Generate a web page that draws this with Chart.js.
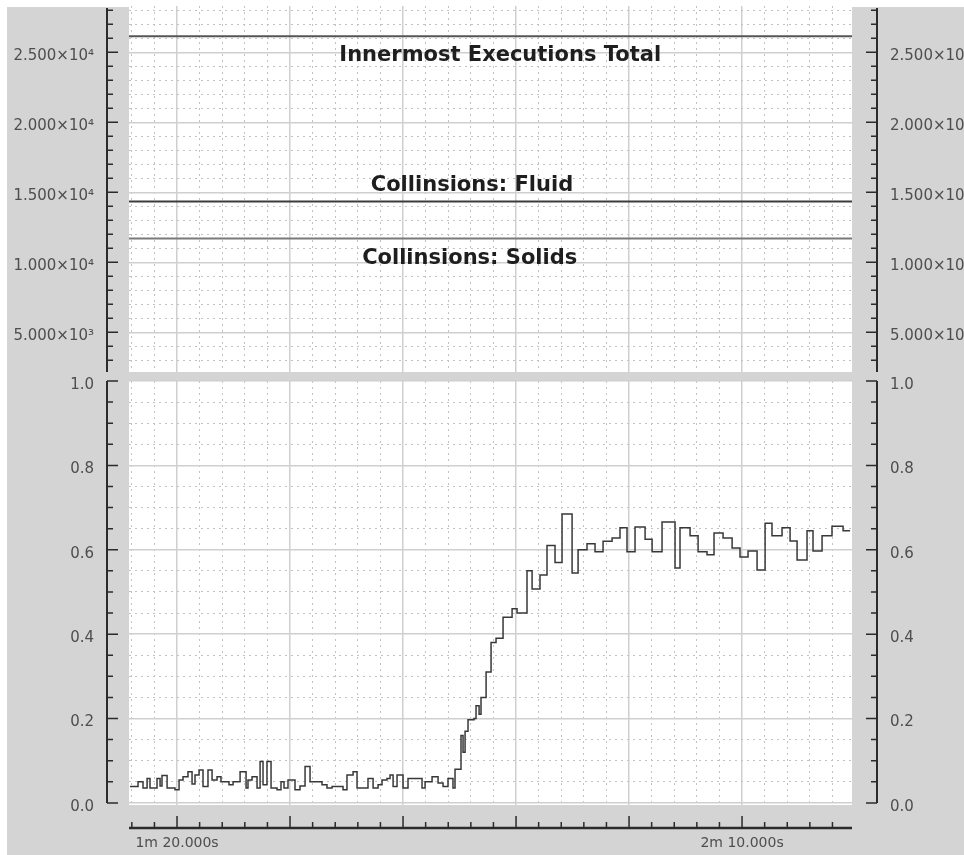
<!DOCTYPE html>
<html>
<head>
<meta charset="utf-8">
<title>Innermost executions / collisions</title>
<script src="https://cdn.jsdelivr.net/npm/chart.js@4.4.1/dist/chart.umd.min.js"></script>
<style>
  html, body { margin: 0; padding: 0; background: #fff; }
  #frame { position: absolute; left: 7px; top: 7px; width: 957px; height: 848px; background: #d4d4d4; }
  .wrap { position: absolute; left: 0; width: 964px; }
  #topWrap { top: 0; height: 377px; }
  #bottomWrap { top: 377px; height: 478px; }
</style>
</head>
<body>
<div id="frame"></div>
<div class="wrap" id="topWrap"><canvas id="countChart"></canvas></div>
<div class="wrap" id="bottomWrap"><canvas id="ratioChart"></canvas></div>
<script>
// shared time axis (seconds)
const timeRange = [75.75, 139.73];
const timeMajorTicks = [80, 90, 100, 110, 120, 130];
const timeLabelTicks = [80, 130];
const timeLabels = ['1m 20.000s', '2m 10.000s'];

// upper panel: counts
const countRange = [2164, 28307];
const countTicks = [5000, 10000, 15000, 20000, 25000];
const countTickLabels = ['5.000×10³', '1.000×10⁴', '1.500×10⁴', '2.000×10⁴', '2.500×10⁴'];
const countSeries = ['Innermost Executions Total', 'Collinsions: Fluid', 'Collinsions: Solids'];
const countValues = [26150, 14350, 11700];

// lower panel: ratio
const ratioRange = [-0.005, 1.0];
const ratioTicks = [0, 0.2, 0.4, 0.6, 0.8, 1.0];
const ratioTickLabels = ['0.0', '0.2', '0.4', '0.6', '0.8', '1.0'];
const ratioTimes = [
  75.84, 76.55, 76.99, 77.35, 77.61, 78.23, 78.50, 78.67, 79.12, 79.82,
  80.18, 80.53, 80.97, 81.33, 81.59, 81.95, 82.30, 82.74, 83.10, 83.54,
  83.89, 84.60, 84.96, 85.58, 86.11, 86.28, 86.64, 87.08, 87.35, 87.61,
  87.96, 88.32, 88.85, 89.20, 89.47, 89.82, 90.44, 90.88, 91.33, 91.77,
  92.83, 93.27, 93.72, 94.69, 95.04, 95.58, 95.93, 96.90, 97.35, 97.79,
  98.14, 98.58, 98.85, 99.12, 99.47, 100.00, 100.44, 101.68, 101.95, 102.57,
  103.10, 103.54, 103.98, 104.42, 104.60, 105.13, 105.31, 105.49, 105.75, 106.28,
  106.46, 106.73, 106.90, 107.35, 107.79, 108.23, 108.85, 109.65, 110.09, 110.97,
  111.42, 112.12, 112.74, 113.45, 114.07, 114.96, 115.49, 116.28, 116.99, 117.70,
  118.50, 119.20, 119.82, 120.53, 121.42, 122.04, 122.92, 124.07, 124.51, 125.40,
  126.11, 126.90, 127.52, 128.32, 129.12, 129.82, 130.53, 131.33, 132.04, 132.65,
  133.54, 134.25, 134.87, 135.75, 136.28, 137.08, 137.96, 138.94, 139.56
];
const ratioValues = [
  0.039, 0.050, 0.035, 0.058, 0.035, 0.058, 0.040, 0.065, 0.035, 0.031,
  0.054, 0.062, 0.074, 0.045, 0.066, 0.078, 0.039, 0.078, 0.054, 0.062,
  0.050, 0.043, 0.050, 0.074, 0.035, 0.054, 0.062, 0.035, 0.098, 0.043,
  0.098, 0.035, 0.031, 0.050, 0.035, 0.054, 0.031, 0.040, 0.086, 0.050,
  0.043, 0.035, 0.039, 0.031, 0.066, 0.074, 0.035, 0.058, 0.035, 0.043,
  0.054, 0.058, 0.066, 0.039, 0.066, 0.035, 0.058, 0.035, 0.050, 0.062,
  0.047, 0.039, 0.058, 0.035, 0.080, 0.160, 0.120, 0.170, 0.197, 0.200,
  0.230, 0.210, 0.250, 0.310, 0.380, 0.390, 0.440, 0.460, 0.450, 0.550,
  0.507, 0.540, 0.610, 0.570, 0.685, 0.545, 0.600, 0.614, 0.595, 0.620,
  0.628, 0.652, 0.595, 0.654, 0.625, 0.595, 0.666, 0.557, 0.652, 0.633,
  0.595, 0.588, 0.640, 0.628, 0.604, 0.583, 0.597, 0.552, 0.663, 0.633,
  0.652, 0.621, 0.576, 0.645, 0.597, 0.633, 0.656, 0.645, 0.645
];

// where the series names sit: time position and offset from their line
const countNamePlacement = [
  { t: 108.6, dy: 19 },
  { t: 106.1, dy: -16 },
  { t: 105.9, dy: 20 }
];
const countLineColors = ['#555', '#3c3c3c', '#7a7a7a'];

Chart.defaults.font.family = '"DejaVu Sans", sans-serif';
Chart.defaults.font.size = 15;
Chart.defaults.color = '#4e4e4e';

function steps(from, to, step) {
  const out = [];
  for (let v = from; v <= to + step / 1000; v += step) out.push(Math.round(v * 1000) / 1000);
  return out;
}
function setTicks(values) {
  return function (s) { s.ticks = values.map(v => ({ value: v })); };
}
function fixedSize(size) {
  return function (s) {
    if (s.isHorizontal()) s.height = size; else s.width = size;
    s.paddingTop = s.paddingBottom = s.paddingLeft = s.paddingRight = 0;
  };
}
function isIn(list, v) {
  return list.some(m => Math.abs(m - v) < 1e-6);
}

const MINOR_GRID = '#c2c2c2';
const MAJOR_GRID = '#cfcfcf';

// time scales: dotted every 2 s, solid every 10 s
function timeScales(labelled, height) {
  const minor = steps(76, 138, 2);
  return {
    x: {
      type: 'linear', position: 'bottom', min: timeRange[0], max: timeRange[1],
      afterBuildTicks: setTicks(minor),
      grid: { color: c => isIn(timeMajorTicks, c.tick.value) ? 'transparent' : MINOR_GRID, lineWidth: 1, drawTicks: false },
      border: { display: false, dash: [2, 4] },
      ticks: { display: false },
      afterFit: fixedSize(0)
    },
    xMajor: {
      type: 'linear', position: 'bottom', min: timeRange[0], max: timeRange[1],
      afterBuildTicks: setTicks(timeMajorTicks),
      grid: { color: MAJOR_GRID, lineWidth: 1.5, drawTicks: false },
      border: { display: false },
      ticks: {
        display: labelled, autoSkip: false, maxRotation: 0, padding: 30,
        font: { size: 14 },
        callback: v => {
          const i = timeLabelTicks.indexOf(v);
          return i >= 0 ? timeLabels[i] : '';
        }
      },
      afterFit: fixedSize(height)
    }
  };
}

function valueScales(range, major, labels, minor) {
  const label = v => {
    const i = major.findIndex(m => Math.abs(m - v) < 1e-9);
    return i >= 0 ? labels[i] : '';
  };
  return {
    y: {
      type: 'linear', position: 'left', min: range[0], max: range[1],
      afterBuildTicks: setTicks(major),
      grid: { color: MAJOR_GRID, lineWidth: 1.5, drawTicks: false },
      border: { display: false },
      ticks: { padding: 35, labelOffset: 4, callback: label },
      afterFit: fixedSize(129)
    },
    yMinor: {
      type: 'linear', position: 'left', min: range[0], max: range[1],
      afterBuildTicks: setTicks(minor),
      grid: { color: c => isIn(major, c.tick.value) ? 'transparent' : MINOR_GRID, lineWidth: 1, drawTicks: false },
      border: { display: false, dash: [2, 4] },
      ticks: { display: false },
      afterFit: fixedSize(0)
    },
    yRight: {
      type: 'linear', position: 'right', min: range[0], max: range[1],
      afterBuildTicks: setTicks(major),
      grid: { drawOnChartArea: false, drawTicks: false },
      border: { display: false },
      ticks: { padding: 38, labelOffset: 4, callback: label },
      afterFit: fixedSize(112)
    }
  };
}

// white plotting field
const plotField = {
  id: 'plotField',
  beforeDraw(chart) {
    const { ctx, chartArea: a } = chart;
    ctx.save();
    ctx.fillStyle = '#ffffff';
    ctx.fillRect(a.left, a.top, a.right - a.left, a.bottom - a.top);
    ctx.restore();
  }
};

// axis rules standing off the plotting field, ticks pointing inwards
const standoffAxes = {
  id: 'standoffAxes',
  afterDraw(chart, args, opts) {
    const { ctx, chartArea: a, scales } = chart;
    const lx = a.left - 22, rx = a.right + 25;
    const top = opts.yTop != null ? scales.y.getPixelForValue(opts.yTop) : a.top + 2;
    const bottom = opts.yBottom != null ? scales.y.getPixelForValue(opts.yBottom) : a.bottom;
    ctx.save();
    ctx.strokeStyle = '#2b2b2b';
    ctx.lineWidth = 2;
    ctx.beginPath();
    ctx.moveTo(lx, top); ctx.lineTo(lx, bottom);
    ctx.moveTo(rx, top); ctx.lineTo(rx, bottom);
    ctx.stroke();
    ctx.lineWidth = 1.5;
    ctx.beginPath();
    scales.yMinor.ticks.forEach(t => {
      const p = scales.yMinor.getPixelForValue(t.value);
      if (p < top - 1 || p > bottom + 1) return;
      const len = isIn(scales.y.ticks.map(m => m.value), t.value) ? 11 : 6;
      ctx.moveTo(lx, p); ctx.lineTo(lx + len, p);
      ctx.moveTo(rx, p); ctx.lineTo(rx - len, p);
    });
    ctx.stroke();
    if (opts.timeAxis) {
      const ay = a.bottom + 23;
      ctx.lineWidth = 2.5;
      ctx.beginPath();
      ctx.moveTo(a.left, ay); ctx.lineTo(a.right, ay);
      ctx.stroke();
      ctx.lineWidth = 1.5;
      ctx.beginPath();
      scales.x.ticks.forEach(t => {
        const p = scales.x.getPixelForValue(t.value);
        const len = isIn(timeMajorTicks, t.value) ? 12 : 6;
        ctx.moveTo(p, ay); ctx.lineTo(p, ay - len);
      });
      ctx.stroke();
    }
    ctx.restore();
  }
};

// series names written next to their lines
const seriesNames = {
  id: 'seriesNames',
  afterDatasetsDraw(chart, args, opts) {
    if (!opts.names) return;
    const { ctx, scales } = chart;
    ctx.save();
    ctx.font = 'bold 21px "DejaVu Sans", sans-serif';
    ctx.fillStyle = '#1e1e1e';
    ctx.textAlign = 'center';
    ctx.textBaseline = 'middle';
    opts.names.forEach((name, i) => {
      const place = opts.placement[i];
      const x = scales.x.getPixelForValue(place.t);
      const y = scales.y.getPixelForValue(opts.values[i]) + place.dy;
      ctx.fillText(name, x, y);
    });
    ctx.restore();
  }
};

document.addEventListener('DOMContentLoaded', function () {
  // Upper panel
  const countCtx = document.getElementById('countChart').getContext('2d');
  new Chart(countCtx, {
    type: 'line',
    data: {
      datasets: countSeries.map((name, i) => ({
        label: name,
        data: [{ x: timeRange[0], y: countValues[i] }, { x: timeRange[1], y: countValues[i] }],
        borderColor: countLineColors[i],
        borderWidth: 2,
        pointRadius: 0,
        xAxisID: 'x',
        yAxisID: 'y'
      }))
    },
    options: {
      responsive: true,
      maintainAspectRatio: false,
      animation: false,
      layout: { padding: { top: 6, left: 0, right: 0, bottom: 0 } },
      plugins: {
        legend: { display: false },
        tooltip: { enabled: false },
        standoffAxes: {},
        seriesNames: { names: countSeries, values: countValues, placement: countNamePlacement }
      },
      scales: Object.assign(
        timeScales(false, 5),
        valueScales(countRange, countTicks, countTickLabels, steps(3000, 28000, 1000))
      )
    },
    plugins: [plotField, standoffAxes, seriesNames]
  });

  // Lower panel (step line)
  const ratioCtx = document.getElementById('ratioChart').getContext('2d');
  new Chart(ratioCtx, {
    type: 'line',
    data: {
      datasets: [{
        label: 'ratio',
        data: ratioTimes.map((t, i) => ({ x: t, y: ratioValues[i] })),
        stepped: true,
        borderColor: '#383838',
        borderWidth: 1.5,
        pointRadius: 0,
        xAxisID: 'x',
        yAxisID: 'y'
      }]
    },
    options: {
      responsive: true,
      maintainAspectRatio: false,
      animation: false,
      layout: { padding: { top: 4, left: 0, right: 0, bottom: 0 } },
      plugins: {
        legend: { display: false },
        tooltip: { enabled: false },
        standoffAxes: { yTop: 1.0, yBottom: 0, timeAxis: true }
      },
      scales: Object.assign(
        timeScales(true, 50),
        valueScales(ratioRange, ratioTicks, ratioTickLabels, steps(0, 1, 0.05))
      )
    },
    plugins: [plotField, standoffAxes, seriesNames]
  });
});
</script>
</body>
</html>
